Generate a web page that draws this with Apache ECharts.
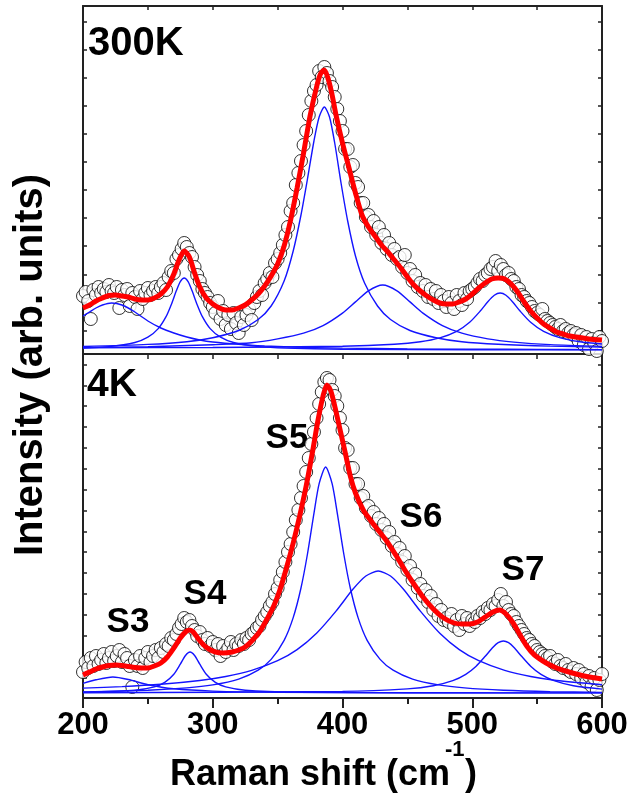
<!DOCTYPE html>
<html>
<head>
<meta charset="utf-8">
<script src="https://cdn.jsdelivr.net/npm/echarts@6/dist/echarts.min.js"></script>
<style>
  html, body { margin: 0; padding: 0; background: #fff; }
  #chart { width: 633px; height: 797px; }
</style>
</head>
<body>
<div id="chart"></div>
<script>
// Raman spectra at 300 K and 4 K: measured points, total fit and Lorentzian components S3-S7.
// Wavenumbers in cm^-1, intensities in arbitrary units.

// measured points are sampled every 2 cm^-1 from 200 to 600
const xMeasured = [];
for (let r = 200; r <= 600; r += 2) xMeasured.push(r);

// ---- 300 K ----
const measured300K = [
  57, 61, 52, 34, 63, 58, 66, 60, 64, 61,
  68, 62, 60, 66, 45, 63, 58, 64, 47, 60,
  56, 44, 62, 54, 60, 65, 58, 62, 66, 60,
  66, 70, 63, 76, 82, 80, 94, 98, 104, 110,
  106, 100, 96, 86, 78, 72, 64, 60, 56, 50,
  46, 40, 52, 34, 42, 28, 38, 24, 40, 30,
  20, 36, 28, 38, 44, 33, 50, 56, 62, 58,
  70, 74, 80, 76, 90, 94, 100, 108, 118, 126,
  142, 150, 168, 180, 192, 208, 222, 238, 252, 262,
  268, 282, 276, 286, 280, 272, 266, 256, 244, 232,
  222, 204, 204, 186, 188, 170, 166, 150, 150, 136,
  138, 126, 132, 118, 126, 110, 118, 104, 110, 98,
  104, 94, 96, 86, 98, 80, 84, 72, 78, 66,
  70, 62, 68, 56, 64, 54, 62, 50, 58, 52,
  46, 56, 50, 44, 58, 52, 48, 60, 54, 62,
  64, 66, 70, 74, 72, 78, 80, 84, 86, 92,
  82, 88, 84, 78, 80, 74, 72, 66, 64, 58,
  56, 52, 50, 46, 42, 40, 38, 44, 34, 32,
  30, 28, 26, 24, 28, 22, 24, 20, 22, 18,
  20, 12, 18, 8, 16, 4, 14, 10, 2, 16,
  12
];

const fit300K = [
  [200,45],[205,48],[210,52],[215,55],[220,57.5],[225,58],[230,57],[235,56],[240,54],[245,53],
  [250,53],[255,55],[260,59],[265,66],[270,79],[274,93],[278,102],[282,96],[286,80],[290,66],
  [295,55],[300,49],[305,45],[310,43],[315,43],[320,45],[325,48],[330,53],[335,59],[340,67],
  [345,77],[350,89],[355,107],[360,133],[365,165],[370,200],[375,237],[380,266],[383,279],[386,283],
  [389,274],[392,258],[395,238],[400,210],[405,185],[410,160],[415,138],[420,126],[425,117],[430,108],
  [435,101],[440,93],[445,85],[450,76],[455,68],[460,62],[465,57],[470,53],[475,50],[480,49],
  [485,49],[490,51],[495,54],[500,59],[505,65],[510,70],[515,74],[520,75],[525,74],[530,69],
  [535,61],[540,51],[545,42],[550,35],[555,29],[560,25],[565,21],[570,19],[575,17],[580,16],
  [590,14],[600,13]
];

const s3_300K = [[200,37],[205,41],[210,45],[215,48],[222,50],[230,48],[240,41],[250,32],[260,25],[270,20],
  [280,16],[290,13],[300,11],[320,8.6],[340,7],[360,6],[400,4.9],[450,4.1],[500,3.8],[550,3.6],[600,3.4]];
const s4_300K = [[200,4.9],[220,6.4],[240,10.5],[250,15.8],[258,24.4],[264,36.3],[268,48.3],[272,62.4],[275,71.4],[278,75],
  [281,71.4],[284,62.4],[288,48.3],[292,36.3],[298,24.4],[306,15.8],[316,10.5],[336,6.4],[356,4.9],[400,3.8],[500,3.3],[600,3.1]];
const s5_300K = [[200,6.5],[250,8.6],[280,11.3],[300,15.3],[320,22.5],[335,33.5],[345,47],[355,72],[362,102],[368,138],
  [373,174],[378,212],[382,236],[386,246],[390,236],[394,210],[399,169],[404,132],[410,97],[417,70],
  [427,47],[437,33.5],[452,22.5],[472,15.3],[492,11.3],[520,8.8],[560,6.9],[600,5.9]];
const s6_300K = [[200,5.4],[250,6.3],[300,8.3],[330,10.2],[350,14.1],[370,19.8],[385,27.4],[400,39.9],[410,51.1],[420,62.2],
  [431,68],[442,62.2],[452,51.1],[462,39.9],[477,27.4],[492,19.8],[512,14.1],[532,10.9],[560,8.4],[600,6.6]];
const s7_300K = [[200,5.3],[300,5.5],[400,6.7],[440,8.7],[460,11.2],[475,15.1],[488,21.6],[498,30.7],[506,41.7],[512,51.3],
  [517,57.8],[521.5,60],[526,57.8],[531,51.3],[537,41.7],[545,30.7],[555,21.6],[568,15.1],[583,11.2],[600,9]];

// ---- 4 K ----
const measured4K = [
  24, 34, 28, 38, 30, 40, 32, 36, 42, 33,
  38, 44, 35, 40, 46, 34, 42, 38, 30, 9,
  36, 30, 40, 28, 38, 44, 34, 40, 46, 38,
  48, 44, 52, 50, 58, 56, 62, 68, 72, 78,
  74, 76, 70, 66, 60, 64, 56, 52, 58, 50,
  54, 46, 52, 40, 50, 44, 48, 54, 46, 52,
  50, 56, 52, 58, 56, 62, 64, 68, 70, 76,
  80, 84, 90, 94, 102, 108, 116, 124, 134, 144,
  152, 164, 176, 186, 198, 210, 224, 238, 252, 264,
  278, 292, 304, 314, 318, 316, 306, 300, 290, 278,
  266, 248, 246, 228, 228, 212, 212, 198, 200, 188,
  190, 180, 184, 172, 178, 166, 172, 158, 164, 150,
  154, 142, 148, 134, 140, 126, 130, 116, 122, 108,
  112, 100, 106, 94, 100, 86, 92, 80, 86, 76,
  78, 74, 82, 70, 76, 66, 80, 72, 78, 70,
  76, 74, 80, 78, 84, 82, 88, 86, 92, 90,
  96, 102, 90, 94, 86, 82, 80, 74, 70, 66,
  62, 58, 56, 52, 50, 46, 44, 42, 40, 38,
  40, 34, 32, 36, 30, 28, 32, 26, 24, 28,
  22, 26, 18, 22, 14, 20, 10, 18, 6, 16,
  22
];

const fit4K = [
  [200,21],[205,24],[210,27],[215,29],[220,30.5],[225,31],[230,30.5],[235,29.5],[240,28.5],[245,28],
  [250,28],[255,30],[260,33],[265,39],[270,48],[275,58],[279,64],[282,66],[285,64],[289,57],
  [293,51],[297,47],[302,44],[308,43],[315,44],[320,46],[325,49],[330,55],[336,64],[341,75],
  [347,90],[352,107],[357,129],[362,153],[367,180],[372,210],[377,245],[381,275],[385,300],[388,311],
  [391,305],[394,290],[398,267],[402,244],[406,220],[410,203],[416,186],[422,175],[428,165],[434,155],
  [442,139],[448,126],[455,112],[462,99],[470,87],[478,78],[486,73],[492,72],[498,72],[504,74],
  [510,79],[516,84],[521,86],[526,82],[531,74],[536,63],[542,50],[548,41],[557,33],[565,28],
  [572,25],[580,22],[590,19],[600,17]
];

const s3_4K = [[200,12.6],[210,16.2],[223,19],[235,16.5],[250,11.3],[270,7.2],[300,4.9],[350,3.7],[450,3.2],[600,3.1]];
const s4_4K = [[200,3.8],[240,5.8],[255,9.1],[263,13.6],[270,21.8],[275,31.8],[279,40.5],[282.5,44],[286,40.5],[290,31.8],
  [295,21.8],[302,13.6],[310,9.1],[325,5.8],[365,3.8],[450,3.2],[600,3.1]];
const s5_4K = [[200,4],[250,5.8],[280,8.1],[300,11.1],[320,16.9],[335,25.8],[345,36.6],[355,55.7],[362,78.4],[368,108],
  [373,142],[378,182.7],[382,212.4],[387,229],[392,212.4],[396,182.7],[401,142],[406,108],[412,78.4],[419,55.7],
  [429,36.6],[439,25.8],[454,16.9],[474,11.1],[494,8.1],[524,5.8],[560,4.4],[600,3.6]];
const s6_4K = [[200,7.9],[230,9.4],[260,11.7],[290,15.5],[310,19.5],[330,25.6],[350,35.3],[365,46.4],[380,62.8],[395,84.9],
  [408,106.7],[418,120],[427.5,125],[437,120],[447,106.7],[460,84.9],[475,62.8],[490,46.4],[505,35.3],[525,25.6],
  [545,19.5],[565,15.5],[600,11.3]];
const s7_4K = [[200,3.2],[400,4.6],[450,7.1],[470,10.2],[485,15.3],[495,21.6],[503,29.8],[510,39.7],[516,48.8],[520,53.3],
  [524,55],[528,53.3],[532,48.8],[538,39.7],[545,29.8],[553,21.6],[563,15.3],[578,10.2],[600,6.9]];

// tick positions along the intensity axes (no labels)
const ticks300K = [22.5, 50.6, 78.7, 106.8, 134.9, 163, 191.1, 219.2, 247.3, 275.4, 303.5, 331.6];
const ticks4K = [18.7, 39.6, 60.4, 81.3, 102.1, 123, 143.8, 164.7, 185.5, 206.4, 227.2, 248.1, 268.9, 289.8, 310.6, 331.5];

const peakLabels = [
  { text: 'S3', x: 128, y: 622 },
  { text: 'S4', x: 205, y: 594 },
  { text: 'S5', x: 287, y: 438 },
  { text: 'S6', x: 421, y: 517 },
  { text: 'S7', x: 523, y: 570 }
];

const FONT = '"Liberation Sans", Arial, Helvetica, sans-serif';
const AXIS_COLOR = '#222';
const BLUE = '#1414ff';
const RED = '#ff0000';

const chart = echarts.init(document.getElementById('chart'), null, { renderer: 'canvas' });

function xAxisDef(gridIndex, position, opts) {
  return Object.assign({
    type: 'value', gridIndex, position, min: 200, max: 600, interval: 50,
    axisLine: { show: true, onZero: false, lineStyle: { color: AXIS_COLOR, width: 2 } },
    axisTick: { show: false },
    axisLabel: { show: false },
    splitLine: { show: false }
  }, opts || {});
}

function yAxisDef(gridIndex, position, min, max, ticks) {
  return {
    type: 'value', gridIndex, position, min, max,
    axisLine: { show: true, onZero: false, lineStyle: { color: AXIS_COLOR, width: 2 } },
    axisTick: { show: true, inside: true, length: 4, customValues: ticks, lineStyle: { color: AXIS_COLOR, width: 1.5 } },
    axisLabel: { show: false },
    splitLine: { show: false }
  };
}

function scatterSeries(values, xi, yi) {
  return {
    type: 'scatter', xAxisIndex: xi, yAxisIndex: yi,
    data: values.map((v, i) => [xMeasured[i], v]),
    symbol: 'circle', symbolSize: 13,
    itemStyle: { color: '#fff', borderColor: '#000', borderWidth: 1 },
    z: 2, silent: true, animation: false
  };
}

function lineSeries(data, xi, yi, color, width, z) {
  return {
    type: 'line', xAxisIndex: xi, yAxisIndex: yi, data,
    showSymbol: false, smooth: 0.25,
    lineStyle: { color, width }, z, silent: true, animation: false
  };
}

const components300K = [s3_300K, s4_300K, s5_300K, s6_300K, s7_300K];
const components4K = [s3_4K, s4_4K, s5_4K, s6_4K, s7_4K];

const series = [
  scatterSeries(measured300K, 0, 0),
  ...components300K.map(c => lineSeries(c, 0, 0, BLUE, 1.4, 3)),
  lineSeries(fit300K, 0, 0, RED, 5, 4),
  scatterSeries(measured4K, 3, 2),
  ...components4K.map(c => lineSeries(c, 3, 2, BLUE, 1.4, 3)),
  lineSeries(fit4K, 3, 2, RED, 5, 4)
];

const graphics = [
  { type: 'text', x: 88, y: 44, style: { text: '300K', font: 'bold 40px ' + FONT, fill: '#000', textAlign: 'left', textVerticalAlign: 'middle' } },
  { type: 'text', x: 87, y: 385, style: { text: '4K', font: 'bold 39px ' + FONT, fill: '#000', textAlign: 'left', textVerticalAlign: 'middle' } },
  ...peakLabels.map(p => ({ type: 'text', x: p.x, y: p.y, style: { text: p.text, font: 'bold 35px ' + FONT, fill: '#000', textAlign: 'center', textVerticalAlign: 'middle' } })),
  { type: 'text', x: 31, y: 365, rotation: Math.PI / 2, style: { text: 'Intensity (arb. units)', font: 'bold 40px ' + FONT, fill: '#000', textAlign: 'center', textVerticalAlign: 'middle' } },
  { type: 'text', x: 170, y: 775, style: { text: 'Raman shift (cm', font: 'bold 36px ' + FONT, fill: '#000', textAlign: 'left', textVerticalAlign: 'middle' } },
  { type: 'text', x: 445, y: 750, style: { text: '-1', font: 'bold 22px ' + FONT, fill: '#000', textAlign: 'left', textVerticalAlign: 'middle' } },
  { type: 'text', x: 465, y: 775, style: { text: ')', font: 'bold 36px ' + FONT, fill: '#000', textAlign: 'left', textVerticalAlign: 'middle' } }
];

chart.setOption({
  backgroundColor: '#fff',
  animation: false,
  grid: [
    { left: 83, right: 31, top: 6, height: 348 },
    { left: 83, right: 31, top: 354, height: 344 }
  ],
  xAxis: [
    xAxisDef(0, 'bottom'),
    xAxisDef(0, 'top', { axisTick: { show: true, inside: true, length: 4, lineStyle: { color: AXIS_COLOR, width: 1.5 } } }),
    xAxisDef(1, 'top', { axisTick: { show: true, inside: true, length: 5, lineStyle: { color: AXIS_COLOR, width: 1.5 } } }),
    xAxisDef(1, 'bottom', {
      interval: 100,
      axisTick: { show: true, inside: false, length: 10, lineStyle: { color: AXIS_COLOR, width: 2 } },
      minorTick: { show: true, splitNumber: 2, length: 6, lineStyle: { color: AXIS_COLOR, width: 2 } },
      axisLabel: { show: true, margin: 12, color: '#000', fontFamily: FONT, fontWeight: 'bold', fontSize: 31 }
    })
  ],
  yAxis: [
    yAxisDef(0, 'left', -1, 347, ticks300K),
    yAxisDef(0, 'right', -1, 347, ticks300K),
    yAxisDef(1, 'left', -2, 342, ticks4K),
    yAxisDef(1, 'right', -2, 342, ticks4K)
  ],
  series,
  graphic: graphics
});
</script>
</body>
</html>
